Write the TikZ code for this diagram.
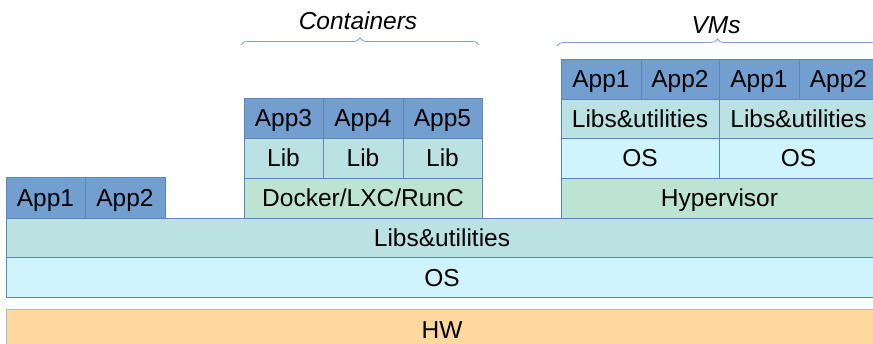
\documentclass[tikz,border=0pt]{standalone}
\usepackage{fontspec}
\setmainfont{Liberation Sans}
\usetikzlibrary{decorations.pathreplacing}
\definecolor{appc}{HTML}{729FCF}
\definecolor{libc}{HTML}{BAE2E2}
\definecolor{osc}{HTML}{CFF4FC}
\definecolor{rtc}{HTML}{BDE3D3}
\definecolor{hwc}{HTML}{FFD8A0}
\definecolor{edgec}{HTML}{5B87C0}
\definecolor{bracec}{HTML}{7F9FC8}
\tikzset{
  layer/.style={draw=edgec, line width=0.9pt, inner sep=0pt, outer sep=0pt, anchor=north west,
    text height=17.5pt, text depth=0pt,
    font=\fontsize{24.5}{28}\selectfont},
  appbox/.style={layer, fill=appc},
  libbox/.style={layer, fill=libc},
  osbox/.style={layer, fill=osc},
  rtbox/.style={layer, fill=rtc},
  hwbox/.style={layer, fill=hwc, draw=bracec!70},
  grp/.style={draw=bracec, line width=0.8pt, decorate, decoration={brace, amplitude=7pt}},
  grplabel/.style={font=\fontsize{24.5}{28}\selectfont\itshape, inner sep=0pt}
}
\begin{document}
\begin{tikzpicture}[x=1pt, y=-1pt]
\useasboundingbox (0,0) rectangle (873,343);
\clip (0,0) rectangle (873,343);
% base layers
\node[hwbox, minimum width=872pt, minimum height=41pt] (hw) at (6,309) {HW};
\node[osbox, minimum width=872pt, minimum height=39.5pt] (os) at (6,257.5) {OS};
\node[libbox, minimum width=872pt, minimum height=39.5pt] (libs) at (6,218) {Libs\&utilities};
% bare metal apps
\node[appbox, minimum width=79pt, minimum height=41pt] (a1) at (6,177) {App1};
\node[appbox, minimum width=80pt, minimum height=41pt] (a2) at (85,177) {App2};
% containers
\node[rtbox, minimum width=238pt, minimum height=40pt] (docker) at (244,178) {Docker/LXC/RunC};
\node[libbox, minimum width=79pt, minimum height=40pt] (l3) at (244,138) {Lib};
\node[libbox, minimum width=80pt, minimum height=40pt] (l4) at (323,138) {Lib};
\node[libbox, minimum width=79pt, minimum height=40pt] (l5) at (403,138) {Lib};
\node[appbox, minimum width=79pt, minimum height=40pt] (a3) at (244,98) {App3};
\node[appbox, minimum width=80pt, minimum height=40pt] (a4) at (323,98) {App4};
\node[appbox, minimum width=79pt, minimum height=40pt] (a5) at (403,98) {App5};
% VMs
\node[rtbox, minimum width=317pt, minimum height=40pt] (hyp) at (561,178) {Hypervisor};
\node[osbox, minimum width=158pt, minimum height=40pt] (os1) at (561,138) {OS};
\node[osbox, minimum width=159pt, minimum height=40pt] (os2) at (719,138) {OS};
\node[libbox, minimum width=158pt, minimum height=39pt] (lu1) at (561,99) {Libs\&utilities};
\node[libbox, minimum width=159pt, minimum height=39pt] (lu2) at (719,99) {Libs\&utilities};
\node[appbox, minimum width=80pt, minimum height=40pt] (v1) at (561,59) {App1};
\node[appbox, minimum width=78pt, minimum height=40pt] (v2) at (641,59) {App2};
\node[appbox, minimum width=80pt, minimum height=40pt] (v3) at (719,59) {App1};
\node[appbox, minimum width=79pt, minimum height=40pt] (v4) at (799,59) {App2};
% group braces
\coordinate (cl) at (241,45);
\coordinate (cr) at (479,45);
\coordinate (vl) at (557,46);
\coordinate (vr) at (878,46);
\draw[grp] (cl) -- (cr);
\draw[grp] (vl) -- (vr);
\node[grplabel] (clab) at (358,21) {Containers};
\node[grplabel] (vlab) at (716,25) {VMs};
\end{tikzpicture}
\end{document}
